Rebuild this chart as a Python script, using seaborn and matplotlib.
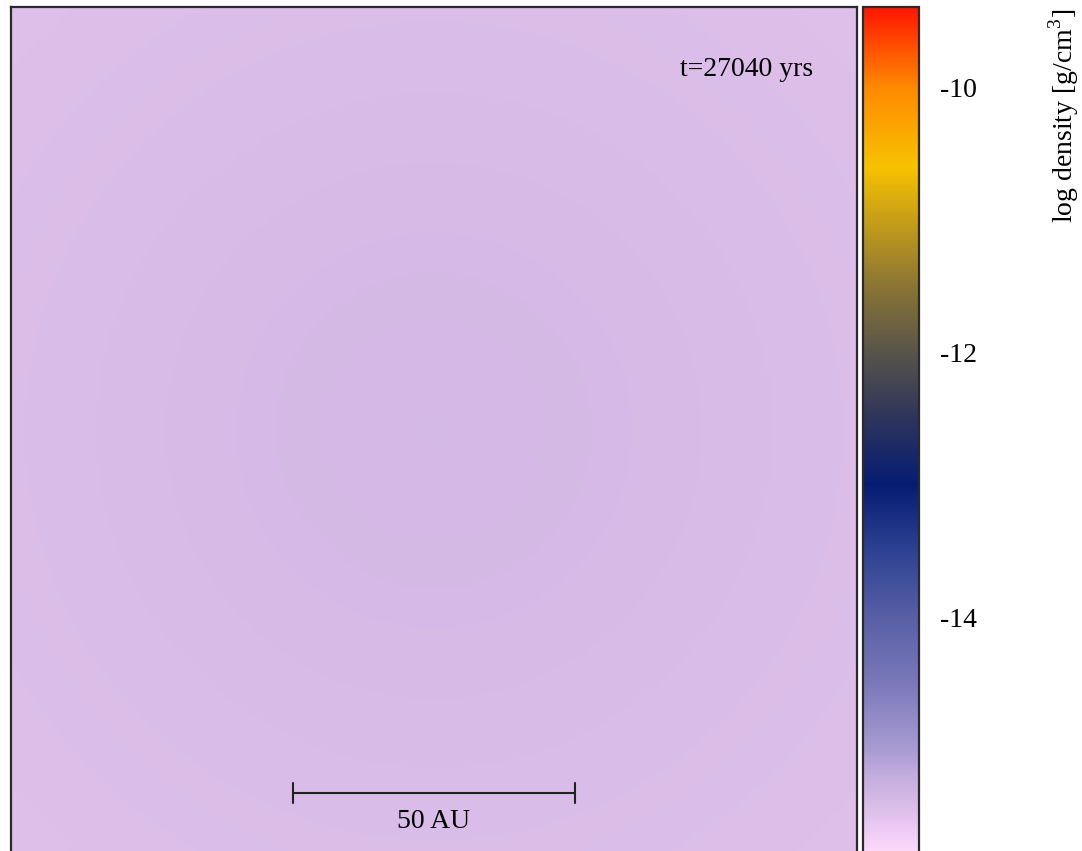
import numpy as np
import matplotlib
matplotlib.use("Agg")
import matplotlib.pyplot as plt
from matplotlib.colors import LinearSegmentedColormap
from matplotlib.ticker import FixedLocator
import seaborn as sns

# Projected radial profile of the core: radius [AU] -> log10 density [g/cm^3]
radius_au = [0, 15, 30, 45, 60, 75, 106]
log_density = [-15.37, -15.375, -15.385, -15.40, -15.415, -15.43, -15.46]

# Colour scale stops: log density -> RGB
cmap_levels = [-15.79, -15.6, -15.4, -15.2, -15.0, -14.5, -14.0, -13.5,
               -13.0, -12.5, -12.0, -11.5, -11.0, -10.6, -10.0, -9.39]
cmap_colors = [(255, 218, 252), (236, 202, 243), (215, 186, 230), (195, 172, 222),
               (168, 155, 210), (122, 120, 185), (88, 95, 165), (45, 66, 145),
               (5, 28, 115), (45, 52, 92), (88, 84, 74), (138, 117, 52),
               (198, 158, 24), (246, 194, 0), (255, 138, 0), (255, 22, 0)]

major_ticks = [-14, -12, -10]
minor_ticks = [-15, -13, -11]
time_label = "t=27040 yrs"
scale_label = "50 AU"
scale_length_au = 50
half_width_au = 75

sns.set_style("white")
plt.rcParams["font.family"] = ["Liberation Serif", "DejaVu Serif"]
plt.rcParams["mathtext.fontset"] = "custom"
plt.rcParams["mathtext.rm"] = "Liberation Serif"
plt.rcParams["text.color"] = "black"
plt.rcParams["ytick.color"] = "black"

vmin, vmax = cmap_levels[0], cmap_levels[-1]
stops = [((v - vmin) / (vmax - vmin), tuple(c / 255 for c in rgb))
         for v, rgb in zip(cmap_levels, cmap_colors)]
cmap = LinearSegmentedColormap.from_list("density", stops, N=1024)

# Map the radial profile onto a square grid
n = 300
centers = np.linspace(-half_width_au, half_width_au, n + 1)
centers = 0.5 * (centers[:-1] + centers[1:])
xx, yy = np.meshgrid(centers, centers)
field = np.interp(np.hypot(xx, yy), radius_au, log_density)

W, H = 1082, 851
fig = plt.figure(figsize=(W / 100, H / 100), dpi=100)
ax = fig.add_axes([11 / W, 1 - (7 + 847) / H, 846 / W, 847 / H])
cax = fig.add_axes([863 / W, 1 - (7 + 847) / H, 56 / W, 847 / H])

sns.heatmap(field, ax=ax, cbar_ax=cax, cmap=cmap, vmin=vmin, vmax=vmax,
            xticklabels=False, yticklabels=False, rasterized=True)

for s in ax.spines.values():
    s.set_visible(True)
    s.set_linewidth(1.6)
    s.set_color("#2a2a2a")

cbar = ax.collections[0].colorbar
cbar.outline.set_linewidth(1.6)
cbar.outline.set_edgecolor("#2a2a2a")
cbar.set_ticks(major_ticks)
cbar.set_ticklabels([f"{t:d}" for t in major_ticks])
cax.yaxis.set_minor_locator(FixedLocator(minor_ticks))
cax.tick_params(which="both", direction="in", left=True, right=True,
                labelleft=False, labelright=True, color="#222222", width=1.3,
                labelcolor="black")
cax.tick_params(which="major", length=7, pad=15, labelsize=20)
cax.tick_params(which="minor", length=4)

fig.text(1064 / W, 1 - 9 / H, r"log density [g/cm$^3$]", rotation=90,
         ha="center", va="top", fontsize=20, color="black")


def to_col(x_au):
    return (x_au + half_width_au) / (2 * half_width_au) * n


def to_row(y_au):
    return (half_width_au - y_au) / (2 * half_width_au) * n


# Time stamp
ax.text(0.948, 0.926, time_label, transform=ax.transAxes,
        ha="right", va="center", fontsize=20, color="black")

# Scale bar
bar_y = -64.2
x0, x1 = to_col(-scale_length_au / 2), to_col(scale_length_au / 2)
yb = to_row(bar_y)
cap = 1.0 * n / 150 * 1.8
ax.plot([x0, x1], [yb, yb], color="#222222", lw=1.5)
ax.plot([x0, x0], [yb - cap, yb + cap], color="#222222", lw=1.5)
ax.plot([x1, x1], [yb - cap, yb + cap], color="#222222", lw=1.5)
ax.text(to_col(0), to_row(-69.3), scale_label, ha="center", va="center",
        fontsize=20, color="black")

fig.savefig("out.png", dpi=100)
